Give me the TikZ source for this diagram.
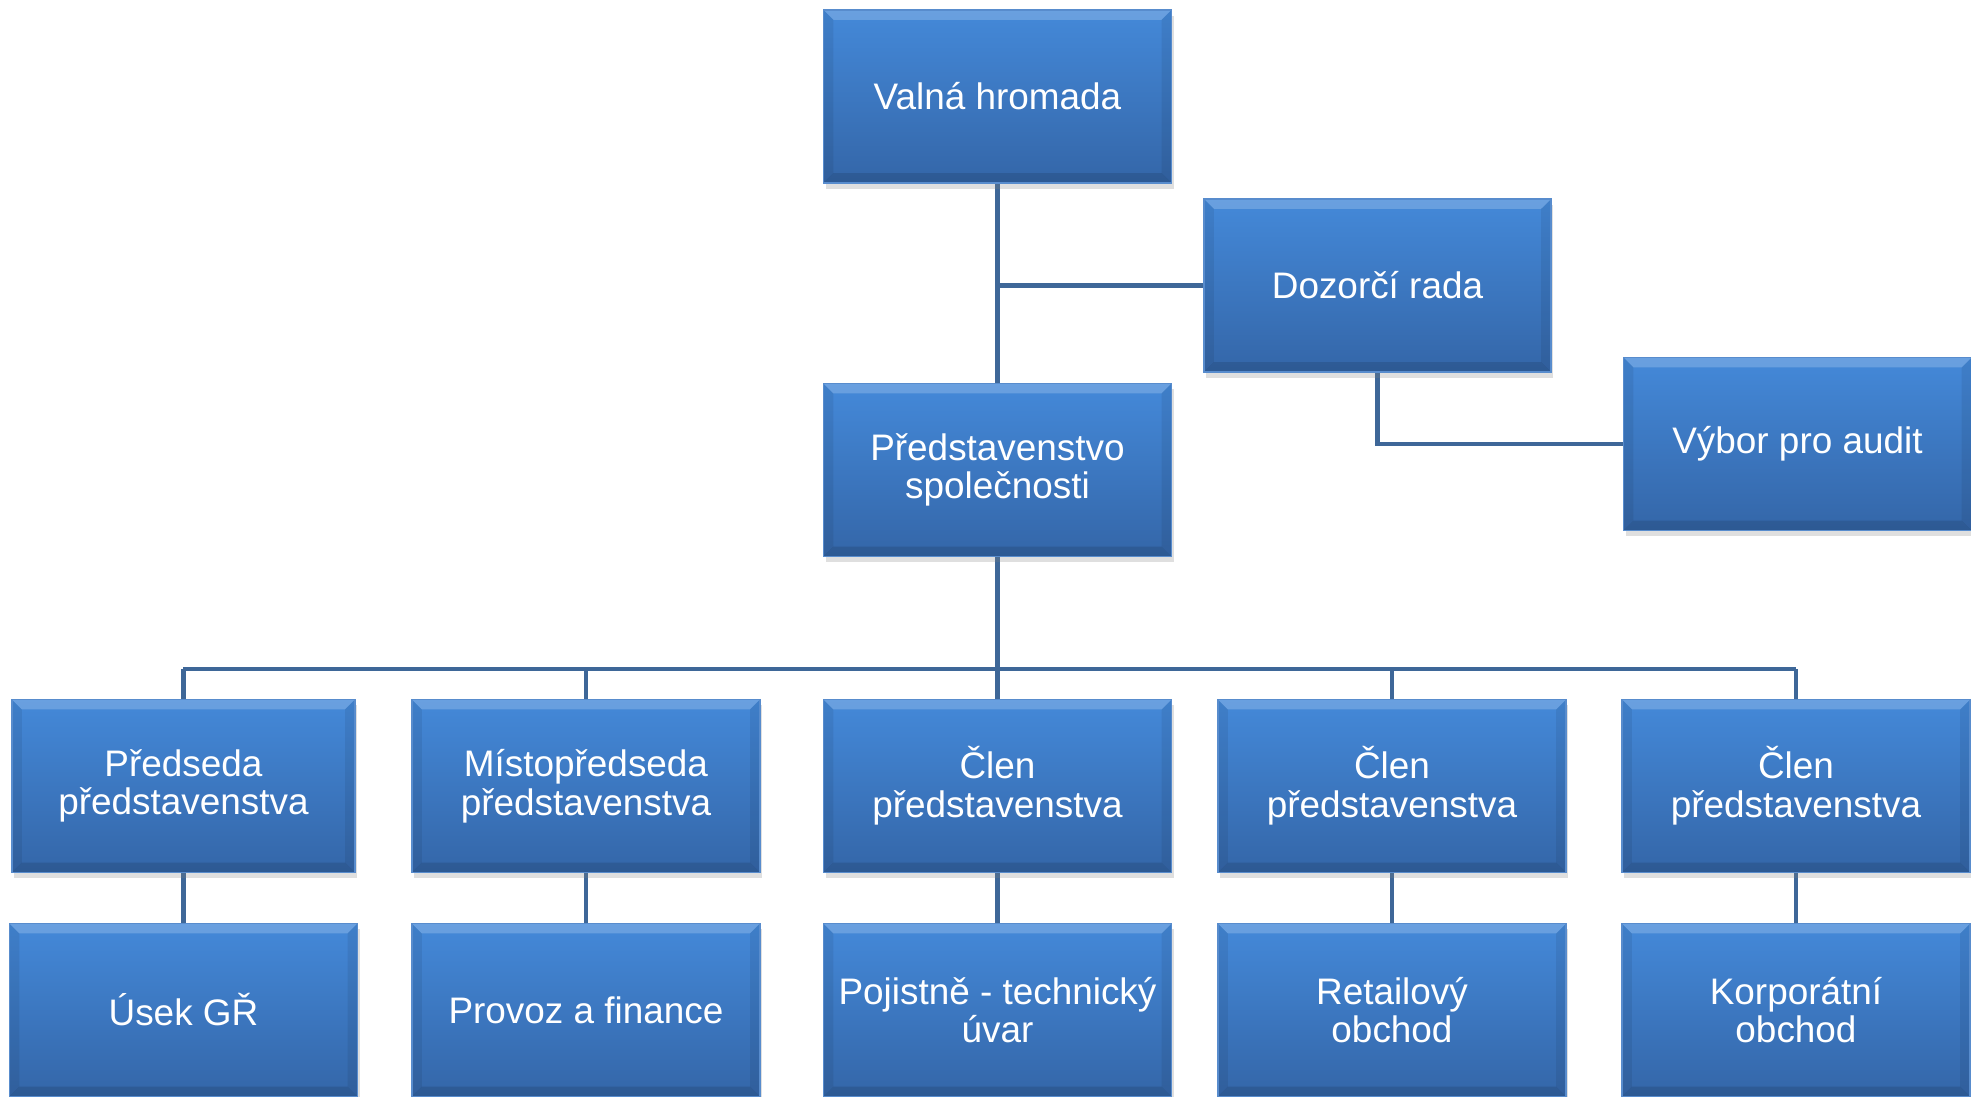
\documentclass[tikz,border=0pt]{standalone}
\usepackage{fontspec}
\setmainfont{Liberation Sans}
\usetikzlibrary{positioning, shadows, backgrounds}

\definecolor{boxtop}{RGB}{68,137,217}
\definecolor{boxbot}{RGB}{52,102,168}
\definecolor{boxedge}{RGB}{88,140,205}
\definecolor{linkblue}{RGB}{62,103,152}

\tikzset{
  orgbox/.style={rectangle, minimum width=3.48cm, minimum height=1.73cm,
    top color=boxtop, bottom color=boxbot, draw=boxedge, line width=0.4pt,
    text=white, align=center, font=\fontsize{10.5}{11}\selectfont,
    drop shadow={shadow xshift=0.6pt, shadow yshift=-1.6pt, opacity=0.25},
    path picture={
      \fill[white, opacity=0.2] (path picture bounding box.north west) -- (path picture bounding box.north east)
        -- ([xshift=-2.8pt,yshift=-2.8pt]path picture bounding box.north east) -- ([xshift=2.8pt,yshift=-2.8pt]path picture bounding box.north west) -- cycle;
      \fill[black, opacity=0.12] (path picture bounding box.south west) -- (path picture bounding box.south east)
        -- ([xshift=-2.8pt,yshift=2.8pt]path picture bounding box.south east) -- ([xshift=2.8pt,yshift=2.8pt]path picture bounding box.south west) -- cycle;
      \fill[black, opacity=0.07] (path picture bounding box.south west) -- (path picture bounding box.north west)
        -- ([xshift=2.8pt,yshift=-2.8pt]path picture bounding box.north west) -- ([xshift=2.8pt,yshift=2.8pt]path picture bounding box.south west) -- cycle;
      \fill[black, opacity=0.07] (path picture bounding box.south east) -- (path picture bounding box.north east)
        -- ([xshift=-2.8pt,yshift=-2.8pt]path picture bounding box.north east) -- ([xshift=-2.8pt,yshift=2.8pt]path picture bounding box.south east) -- cycle;
    }},
  link/.style={draw=linkblue, line width=1.3pt}
}

\begin{document}
\begin{tikzpicture}[on grid, auto]
        \path[use as bounding box] (-9.975,0.965) rectangle (9.735,-10.005);
        % Define the nodes
        \node[orgbox] (valna) {Valná hromada};
        \node[orgbox, minimum width=3.47cm] (dozor) [below right=1.89 and 3.8 of valna] {Dozorčí rada};
        \node[orgbox] (pred) [below=3.735 of valna] {Představenstvo\\společnosti};
        \node[orgbox] (vybor) [below right=1.585 and 4.2 of dozor] {Výbor pro audit};
        \node[orgbox] (clenA) [below=3.16 of pred] {Člen\\představenstva};
        \node[orgbox] (misto) [left=4.115 of clenA] {Místopředseda\\představenstva};
        \node[orgbox, minimum width=3.43cm] (predseda) [left=4.025 of misto] {Předseda\\představenstva};
        \node[orgbox] (clenB) [right=3.945 of clenA] {Člen\\představenstva};
        \node[orgbox] (clenC) [right=4.04 of clenB] {Člen\\představenstva};
        \node[orgbox] (usek) [below=2.24 of predseda] {Úsek GŘ};
        \node[orgbox] (provoz) [below=2.24 of misto] {Provoz a finance};
        \node[orgbox] (pojist) [below=2.24 of clenA] {Pojistně - technický\\úvar};
        \node[orgbox] (retail) [below=2.24 of clenB] {Retailový\\obchod};
        \node[orgbox] (korp) [below=2.24 of clenC] {Korporátní\\obchod};
        \coordinate[below=1.12 of pred.south] (bus);
        % Define the connectors
        \begin{scope}[on background layer]
        \draw[link] (valna.south) -- (pred.north);
        \draw[link] (dozor.west) -- (dozor.west -| valna.south);
        \draw[link] (dozor.south) |- (vybor.west);
        \draw[link] (pred.south) -- (bus);
        \draw[link] (bus -| predseda.north) -- (bus -| clenC.north);
        \foreach \n in {predseda, misto, clenA, clenB, clenC}
          \draw[link] (\n.north) -- (\n.north |- bus);
        \draw[link] (predseda.south) -- (usek.north);
        \draw[link] (misto.south) -- (provoz.north);
        \draw[link] (clenA.south) -- (pojist.north);
        \draw[link] (clenB.south) -- (retail.north);
        \draw[link] (clenC.south) -- (korp.north);
        \end{scope}
    \end{tikzpicture}
\end{document}
